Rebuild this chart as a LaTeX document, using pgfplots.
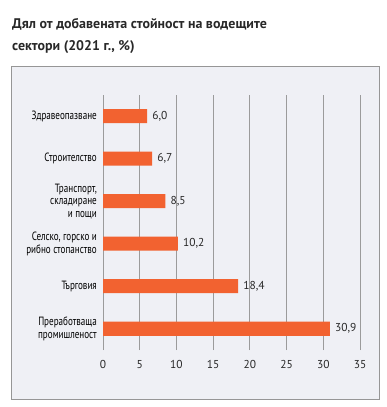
\documentclass[border=0pt]{standalone}
\usepackage{pgfplots}
\pgfplotsset{compat=1.18}
\usepackage{fontspec}
\setmainfont{PT Sans}
\newfontfamily\condfont[FakeStretch=0.76]{PT Sans}
\definecolor{bgc}{RGB}{239,240,245}
\definecolor{boxc}{RGB}{150,150,150}
\definecolor{barc}{RGB}{242,98,48}
\definecolor{gridc}{RGB}{155,155,155}
\definecolor{txtc}{RGB}{40,40,40}
\begin{document}
\begin{tikzpicture}[x=1bp,y=1bp]
\useasboundingbox (0,0) rectangle (387,407);
\filldraw[fill=bgc,draw=boxc,line width=1bp] (11,8) rectangle (379,340);
\node[anchor=base west,inner sep=0pt,font=\bfseries\fontsize{14}{16}\selectfont,text=txtc] at (12,379) {Дял от добавената стойност на водещите};
\node[anchor=base west,inner sep=0pt,font=\bfseries\fontsize{14}{16}\selectfont,text=txtc] at (12,357) {сектори (2021 г., \%)};
\begin{axis}[
  scale only axis,
  width=257bp, height=255bp,
  at={(103bp,57bp)}, anchor=south west,
  xbar, bar width=14bp,
  xmin=0, xmax=35,
  ymin=-0.5, ymax=5.5,
  xtick={0,5,...,35},
  ytick={0,1,2,3,4,5},
  yticklabels={{Преработваща\\промишленост},{Търговия},{Селско, горско и\\рибно стопанство},{Транспорт,\\складиране\\и пощи},{Строителство},{Здравеопазване}},
  axis line style={draw=none},
  major tick length=0pt,
  xmajorgrids, grid style={gridc, line width=1bp},
  yticklabel style={inner sep=0pt, xshift=-6bp, align=right, font=\condfont\fontsize{12}{12.5}\selectfont, text=black},
  xticklabel style={inner sep=0pt, yshift=-10bp, font=\fontsize{11.5}{13}\selectfont, text=txtc},
  /pgf/number format/assume math mode=true,
  nodes near coords,
  nodes near coords style={anchor=west, inner sep=0pt, xshift=5bp, font=\fontsize{11.5}{13}\selectfont, text=txtc,
    /pgf/number format/.cd, fixed, fixed zerofill, precision=1, use comma},
]
\addplot[fill=barc, draw=none] coordinates {(30.9,0) (18.4,1) (10.2,2) (8.5,3) (6.7,4) (6.0,5)};
\end{axis}
\end{tikzpicture}
\end{document}
